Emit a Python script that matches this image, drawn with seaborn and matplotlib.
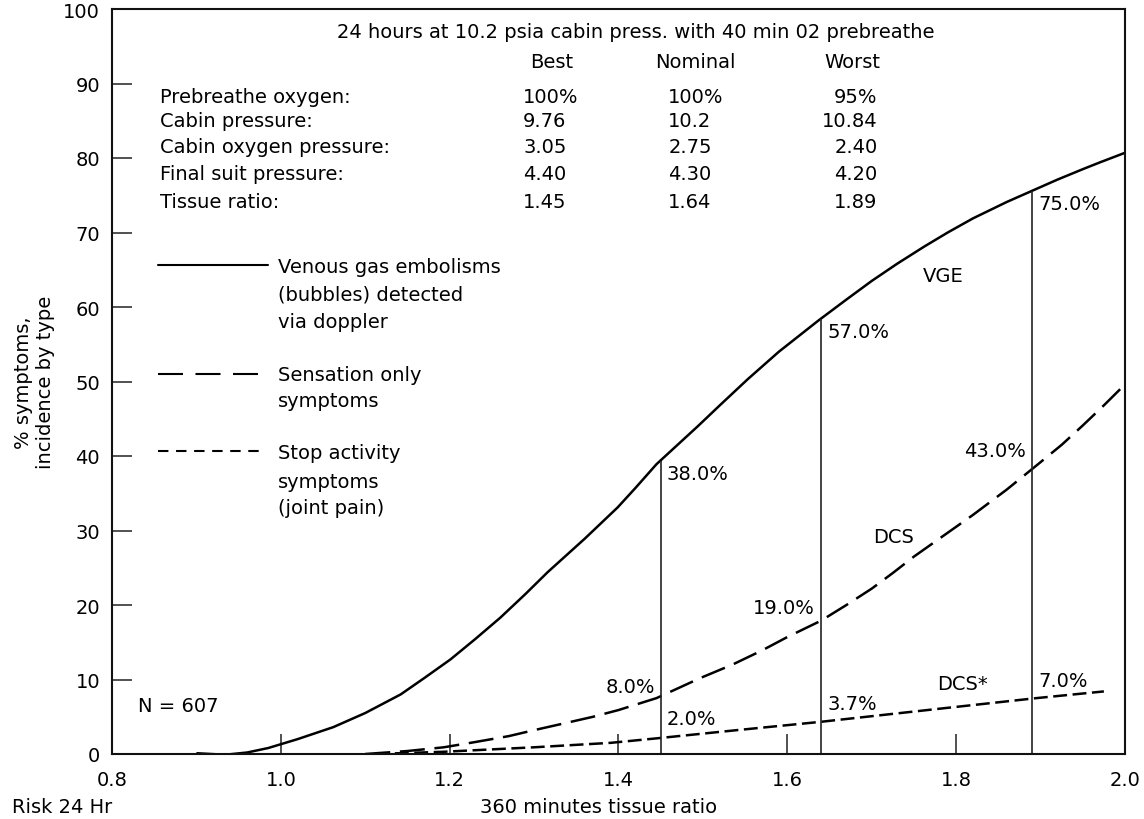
import matplotlib
matplotlib.use("Agg")
import matplotlib.pyplot as plt
import seaborn as sns
import numpy as np

# ---------------- data ----------------
vge_x = [0.901, 0.934, 0.96, 0.985, 1.02, 1.062, 1.10, 1.142, 1.17, 1.201, 1.23, 1.260,
         1.29, 1.316, 1.36, 1.399, 1.42, 1.445, 1.494, 1.52, 1.553, 1.59, 1.637, 1.67,
         1.70, 1.73, 1.762, 1.79, 1.82, 1.86, 1.892, 1.92, 1.95, 1.97, 2.00]
vge_y = [0.1, -0.1, 0.2, 0.8, 2.0, 3.6, 5.5, 8.0, 10.2, 12.7, 15.4, 18.3,
         21.5, 24.4, 28.9, 33.1, 35.7, 38.9, 44.0, 46.8, 50.3, 54.0, 58.2, 61.0,
         63.5, 65.8, 68.1, 70.0, 71.9, 74.1, 75.7, 77.1, 78.5, 79.4, 80.7]

dcs_x = [1.10, 1.15, 1.193, 1.23, 1.27, 1.30, 1.339, 1.37, 1.40, 1.445, 1.497, 1.535,
         1.57, 1.60, 1.640, 1.67, 1.70, 1.725, 1.750, 1.785, 1.82, 1.86, 1.897, 1.925,
         1.95, 1.975, 1.999]
dcs_y = [0.0, 0.4, 0.9, 1.6, 2.4, 3.2, 4.2, 5.0, 5.9, 7.5, 10.2, 12.0,
         13.9, 15.7, 17.9, 20.0, 22.2, 24.3, 26.5, 29.3, 32.1, 35.5, 38.9, 41.5,
         44.1, 46.8, 49.5]

stop_x = [1.112, 1.193, 1.30, 1.391, 1.445, 1.54, 1.638, 1.790, 1.895, 1.975]
stop_y = [0.0, 0.3, 0.9, 1.5, 2.1, 3.2, 4.3, 6.2, 7.5, 8.4]

case_ratio = [1.45, 1.64, 1.89]
case_vge_top = [39.3, 58.4, 75.6]
vge_labels = ["38.0%", "57.0%", "75.0%"]
dcs_labels = ["8.0%", "19.0%", "43.0%"]
stop_labels = ["2.0%", "3.7%", "7.0%"]

table_cols = ["Best", "Nominal", "Worst"]
table_rows = ["Prebreathe oxygen:", "Cabin pressure:", "Cabin oxygen pressure:",
              "Final suit pressure:", "Tissue ratio:"]
table_best = ["100%", "9.76", "3.05", "4.40", "1.45"]
table_nominal = ["100%", "10.2", "2.75", "4.30", "1.64"]
table_worst = ["95%", "10.84", "2.40", "4.20", "1.89"]

x_ticks = [0.8, 1.0, 1.2, 1.4, 1.6, 1.8, 2.0]
x_ticklabels = ["0.8", "1.0", "1.2", "1.4", "1.6", "1.8", "2.0"]
y_ticks = [0, 10, 20, 30, 40, 50, 60, 70, 80, 90, 100]

# ---------------- style ----------------
sns.set_theme(style="white")
plt.rcParams["font.family"] = ["DejaVu Sans"]
plt.rcParams["lines.scale_dashes"] = False
plt.rcParams["text.color"] = "black"
plt.rcParams["axes.labelcolor"] = "black"
plt.rcParams["xtick.color"] = "black"
plt.rcParams["ytick.color"] = "black"
FS = 14

fig = plt.figure(figsize=(11.44, 8.2), dpi=100)
ax = fig.add_axes([112 / 1144, 1 - 755 / 820, 1013 / 1144, 745 / 820])

LW = 1.8
sns.lineplot(x=vge_x, y=vge_y, ax=ax, color="black", lw=LW, sort=False, estimator=None)
sns.lineplot(x=dcs_x, y=dcs_y, ax=ax, color="black", lw=LW, sort=False, estimator=None,
             linestyle=(0, (18, 7)))
sns.lineplot(x=stop_x, y=stop_y, ax=ax, color="black", lw=LW, sort=False, estimator=None,
             linestyle=(0, (10, 4)))

ax.vlines(case_ratio, 0, case_vge_top, color="#222222", lw=1.2)

ax.set_xlim(0.8, 2.0)
ax.set_ylim(0, 100)
ax.set_xticks(x_ticks)
ax.set_xticklabels(x_ticklabels)
ax.set_yticks(y_ticks)
ax.tick_params(axis="both", which="major", direction="in", length=14.4, width=1.1,
               bottom=True, left=True, top=False, right=False,
               colors="#222222", labelsize=FS, labelcolor="black")
ax.tick_params(axis="y", pad=8.6)
ax.tick_params(axis="x", pad=11.5)
for s in ax.spines.values():
    s.set_visible(True)
    s.set_color("#111111")
    s.set_linewidth(1.5)

ax.set_xlabel("360 minutes tissue ratio", fontsize=FS)
ax.xaxis.set_label_coords(0.48, -0.058)
ax.set_ylabel("% symptoms,\nincidence by type", fontsize=FS)
ax.yaxis.set_label_coords(-0.056, 0.5)
fig.text(12 / 1144, 1 - 808 / 820, "Risk 24 Hr", fontsize=FS, ha="left", va="center")

# ---------------- annotations ----------------
dx = 0.007
for x, top, lab in zip(case_ratio, case_vge_top, vge_labels):
    ax.text(x + dx, top - 1.7, lab, fontsize=FS, ha="left", va="center")
dcs_lab_y = [9.0, 19.7, 40.7]
for x, yy, lab in zip(case_ratio, dcs_lab_y, dcs_labels):
    ax.text(x - dx, yy, lab, fontsize=FS, ha="right", va="center")
stop_lab_y = [4.8, 6.8, 9.8]
for x, yy, lab in zip(case_ratio, stop_lab_y, stop_labels):
    ax.text(x + dx, yy, lab, fontsize=FS, ha="left", va="center")

ax.text(1.785, 64.2, "VGE", fontsize=FS, ha="center", va="center")
ax.text(1.726, 29.2, "DCS", fontsize=FS, ha="center", va="center")
ax.text(1.777, 9.4, "DCS*", fontsize=FS, ha="left", va="center")
ax.text(0.831, 6.5, "N = 607", fontsize=FS, ha="left", va="center")

# header and table
ax.text(1.420, 97.0, "24 hours at 10.2 psia cabin press. with 40 min 02 prebreathe",
        fontsize=FS, ha="center", va="center")
for cx, c in zip([1.321, 1.491, 1.677], table_cols):
    ax.text(cx, 92.9, c, fontsize=FS, ha="center", va="center")
row_y = [88.3, 85.0, 81.5, 77.9, 74.2]
for yy, r, b, n, w in zip(row_y, table_rows, table_best, table_nominal, table_worst):
    ax.text(0.857, yy, r, fontsize=FS, ha="left", va="center")
    ax.text(1.287, yy, b, fontsize=FS, ha="left", va="center")
    ax.text(1.459, yy, n, fontsize=FS, ha="left", va="center")
    ax.text(1.707, yy, w, fontsize=FS, ha="right", va="center")

# legend (drawn manually)
ax.plot([0.8545, 0.985], [65.6, 65.6], color="black", lw=1.5)
ax.plot([0.8545, 0.979], [51.0, 51.0], color="black", lw=1.5, linestyle=(0, (18, 9)))
ax.plot([0.8545, 0.979], [40.7, 40.7], color="black", lw=1.5, linestyle=(0, (7.5, 5.5)))
leg_texts = [
    (["Venous gas embolisms", "(bubbles) detected", "via doppler"], [65.4, 61.7, 58.1]),
    (["Sensation only", "symptoms"], [51.0, 47.4]),
    (["Stop activity", "symptoms", "(joint pain)"], [40.5, 36.6, 33.1]),
]
for lines, ys in leg_texts:
    for t, yy in zip(lines, ys):
        ax.text(0.997, yy, t, fontsize=FS, ha="left", va="center")

fig.savefig("out.png", dpi=100)
